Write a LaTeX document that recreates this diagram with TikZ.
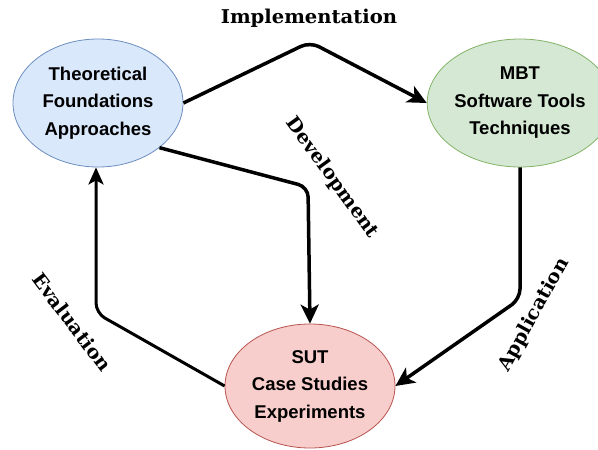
\documentclass[tikz,border=0pt]{standalone}
\usepackage{fontspec}
\setsansfont{Liberation Sans}
\newfontfamily\lblfont[FakeStretch=1.03]{DejaVu Serif}
\usetikzlibrary{shapes.geometric,arrows.meta}

\definecolor{bluefill}{HTML}{DAE8FC}
\definecolor{bluedraw}{HTML}{6C8EBF}
\definecolor{greenfill}{HTML}{D5E8D4}
\definecolor{greendraw}{HTML}{82B366}
\definecolor{redfill}{HTML}{F8CECC}
\definecolor{reddraw}{HTML}{B85450}

\tikzset{
  topic/.style={ellipse, minimum width=170pt, minimum height=128pt, inner sep=0pt,
    align=center, line width=0.8pt,
    font=\sffamily\bfseries\fontsize{18.5}{27.5}\selectfont},
  flow/.style={line width=3.5pt, rounded corners=10pt,
    -{Stealth[length=19pt,width=18pt,inset=5pt]}},
  thinflow/.style={line width=3pt, rounded corners=10pt,
    -{Stealth[length=17pt,width=15pt,inset=4pt]}},
  phase/.style={font=\lblfont\bfseries\fontsize{19}{22}\selectfont, inner sep=0pt}
}

\begin{document}
\begin{tikzpicture}[x=1pt,y=-1pt]
  \useasboundingbox (0,0) rectangle (598,450);

  % the three topic areas
  \node[topic, fill=bluefill, draw=bluedraw] (theory) at (98,103)
    {Theoretical\\Foundations\\Approaches};
  \node[topic, fill=greenfill, draw=greendraw, minimum width=166pt] (tools) at (520,103)
    {MBT\\Software Tools\\Techniques};
  \node[topic, fill=redfill, draw=reddraw, minimum height=124pt] (sut) at (310,386)
    {SUT\\Case Studies\\Experiments};

  % bend points of the connectors
  \coordinate (impl) at (310,42);
  \coordinate (dev) at (308,187);
  \coordinate (app) at (520,299);
  \coordinate (eval) at (96,313);

  % connectors
  \draw[flow] (theory.east) -- (impl) -- (tools.west);
  \draw[flow] (theory.-36) -- (dev) -- (sut.north);
  \draw[flow] (tools.south) -- (app) -- (sut.east);
  \draw[thinflow] (sut.west) -- (eval) -- (theory.south -| eval);

  % phase labels
  \node[phase] (limpl) at (309,18) {Implementation};
  \node[phase, rotate=-54] (ldev) at (332,178) {Development};
  \node[phase, rotate=61] (lapp) at (534,315) {Application};
  \node[phase, rotate=-53] (leval) at (72,322) {Evaluation};
\end{tikzpicture}
\end{document}
